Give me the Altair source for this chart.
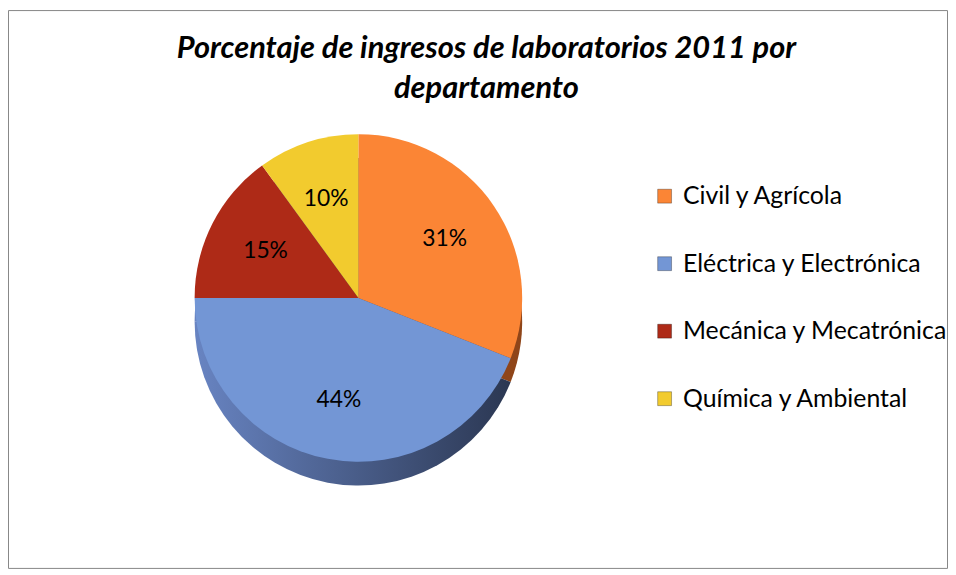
import altair as alt
import pandas as pd

# ---- data ----
departamentos = ["Civil y Agrícola", "Eléctrica y Electrónica",
                 "Mecánica y Mecatrónica", "Química y Ambiental"]
porcentajes = [31, 44, 15, 10]
etiquetas = ["31%", "44%", "15%", "10%"]
orden = [0, 1, 2, 3]

# ---- styles ----
colores = ["#fb8535", "#7396d5", "#ae2a17", "#f2cb2e"]
lado_civil = "#8f4519"
lado_grad = {"gradient": "linear", "x1": 0, "y1": 0, "x2": 1, "y2": 0,
             "stops": [{"offset": 0, "color": "#6884c2"},
                       {"offset": 1, "color": "#2b3752"}]}

df = pd.DataFrame({"dep": departamentos, "pct": porcentajes,
                   "etq": etiquetas, "orden": orden})

W, H = 946, 562
CX, CY, R, DEPTH = 353, 290, 165, 24
FONT = "Lato"

theta = alt.Theta("pct:Q", stack=True)
order = alt.Order("orden:Q")

side = alt.Chart(df).mark_arc(radius=R).encode(
    theta=theta, order=order,
    x=alt.value(CX), y=alt.value(CY + DEPTH),
    fill=alt.condition(alt.datum.dep == departamentos[0],
                       alt.value(lado_civil), alt.value(lado_grad)),
)

top = alt.Chart(df).mark_arc(radius=R).encode(
    theta=theta, order=order,
    x=alt.value(CX), y=alt.value(CY),
    color=alt.Color("dep:N",
                    scale=alt.Scale(domain=departamentos, range=colores),
                    legend=alt.Legend(title=None, orient="none",
                                      legendX=649, legendY=175,
                                      symbolType="square", symbolSize=196,
                                      symbolStrokeColor="rgba(0,0,0,0.3)",
                                      symbolStrokeWidth=1,
                                      labelFont=FONT, labelFontSize=25,
                                      labelColor="black", labelOffset=6,
                                      labelLimit=400, rowPadding=42,
                                      padding=0)),
)

texts = alt.Chart(df).mark_text(radius=105, font=FONT, fontSize=23,
                                color="black").encode(
    theta=theta, order=order,
    x=alt.value(CX), y=alt.value(CY),
    text="etq:N",
)

chart = alt.layer(side, top, texts).properties(
    width=W, height=H, padding=0,
    title=alt.Title(
        text=["Porcentaje de ingresos de laboratorios 2011 por", "departamento"],
        font=FONT, fontSize=31, fontStyle="italic", fontWeight="bold",
        color="black", anchor="middle", orient="top", offset=-96,
        lineHeight=41, dx=9),
).configure_view(stroke="#868686", strokeWidth=1)

chart.save("out.html", embed_options={"renderer": "svg", "actions": False})
